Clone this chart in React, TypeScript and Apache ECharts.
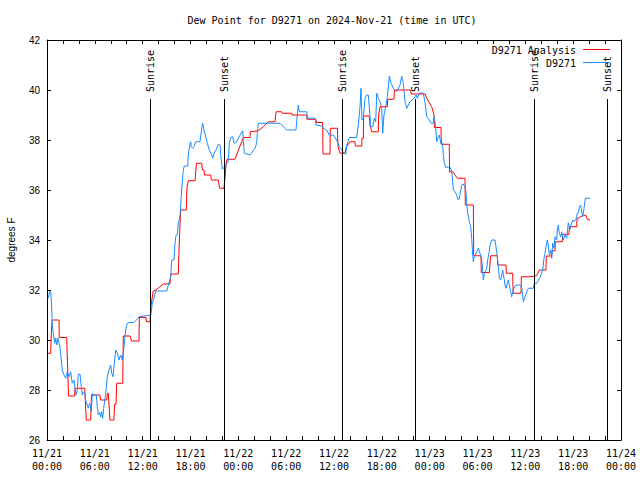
import React, { useEffect, useRef } from "react";
import * as echarts from "echarts";

const TITLE = "Dew Point for D9271 on 2024-Nov-21 (time in UTC)";
const Y_LABEL = "degrees F";
const SERIES_NAMES = ["D9271 Analysis", "D9271"];
const MONTH = 11;
const START_DAY = 21; // hour 0 = 2024-11-21 00:00 UTC
const X_MIN = 0;
const X_MAX = 72;
const X_STEP = 6;
const Y_MIN = 26;
const Y_MAX = 42;
const Y_STEP = 2;

// [hours since 11/21 00:00 UTC, dew point °F]
const analysisData: [number, number][] = [
  [0.13, 29.47], [0.46, 29.47], [0.56, 30.4], [0.66, 30.8], [1.51, 30.8], [1.53, 30.1], [2.47, 30.1],
  [2.57, 29.1], [2.7, 27.76], [3.47, 27.76], [3.51, 28.07], [4.73, 28.07], [4.83, 27.44], [4.93, 26.8],
  [5.48, 26.8], [5.58, 27.8], [6.65, 27.8], [6.71, 27.6], [7.49, 27.6], [7.59, 27.87], [7.69, 27.87],
  [7.9, 26.8], [8.4, 26.8], [8.47, 27.43], [8.66, 27.43], [8.74, 28.27], [9.5, 28.27], [9.57, 30.16],
  [10.41, 30.16], [10.6, 29.96], [11.54, 29.96], [11.58, 30.9], [12.42, 30.9], [12.48, 30.73],
  [12.92, 30.73], [13.05, 31.4], [13.33, 31.96], [13.68, 32.0], [14.59, 32.24], [15.43, 32.24],
  [15.52, 32.64], [16.47, 32.64], [16.56, 33.6], [16.68, 34.6], [16.77, 35.2], [17.47, 35.2],
  [17.56, 36.1], [17.72, 36.37], [18.57, 36.37], [18.75, 37.07], [19.4, 37.07], [19.5, 36.8],
  [19.69, 36.8], [19.76, 36.6], [20.53, 36.6], [20.63, 36.4], [21.49, 36.4], [21.64, 36.07],
  [22.2, 36.07], [22.33, 36.5], [22.45, 37.0], [22.58, 37.23], [23.58, 37.23], [24.62, 38.1],
  [25.46, 38.1], [25.5, 38.33], [26.51, 38.37], [27.13, 38.53], [27.76, 38.73], [28.6, 38.73],
  [28.73, 39.13], [29.44, 39.13], [29.48, 39.07], [30.7, 39.07], [30.73, 39.0], [32.58, 39.0],
  [32.61, 38.83], [33.74, 38.83], [33.78, 38.7], [34.58, 38.7], [34.62, 37.44], [35.5, 37.44],
  [35.54, 38.47], [36.42, 38.47], [36.5, 37.73], [36.75, 37.47], [37.38, 37.47], [37.51, 37.7],
  [38.01, 37.93], [38.64, 37.93], [38.67, 37.76], [39.48, 37.76], [39.51, 38.07], [39.68, 38.07],
  [39.72, 38.96], [40.43, 38.96], [40.52, 38.6], [40.73, 38.33], [41.56, 38.33], [41.6, 39.0],
  [41.77, 39.33], [42.69, 39.33], [42.73, 39.63], [43.53, 39.63], [43.57, 40.0], [45.54, 40.0],
  [45.75, 39.84], [47.42, 39.84], [47.63, 39.67], [48.26, 39.33], [48.55, 39.0], [48.59, 38.5],
  [49.42, 38.5], [49.46, 37.83], [50.46, 37.83], [50.5, 36.73], [50.89, 36.73], [51.47, 36.47],
  [52.43, 36.47], [52.47, 35.4], [53.48, 35.4], [53.52, 33.37], [54.44, 33.37], [54.47, 32.7],
  [55.48, 32.7], [55.64, 33.37], [56.49, 33.37], [56.52, 33.0], [57.58, 33.0], [57.61, 32.67],
  [58.42, 32.67], [58.46, 31.87], [59.46, 31.87], [59.5, 32.53], [60.59, 32.53], [61.43, 32.57],
  [61.76, 32.8], [62.59, 32.8], [62.63, 33.36], [63.31, 33.36], [63.35, 33.57], [63.72, 33.57],
  [63.76, 33.93], [64.64, 33.93], [64.68, 34.23], [65.48, 34.23], [65.52, 34.53], [66.45, 34.53],
  [66.48, 34.85], [67.27, 34.99], [67.61, 34.99], [67.78, 34.83], [68.11, 34.8],
];

const observedData: [number, number][] = [
  [0.13, 31.67], [0.25, 31.8], [0.34, 31.93], [0.46, 31.93], [0.54, 31.6], [0.66, 30.67], [0.79, 30.27],
  [0.97, 29.87], [1.09, 30.07], [1.22, 29.8], [1.38, 30.07], [1.51, 29.87], [1.63, 29.73], [1.79, 29.2],
  [1.92, 28.8], [2.13, 28.6], [2.35, 28.47], [2.55, 28.73], [2.76, 28.53], [2.97, 28.73], [3.17, 28.27],
  [3.39, 28.4], [3.51, 28.07], [3.64, 27.8], [3.8, 28.0], [3.93, 28.63], [4.14, 28.63], [4.3, 28.13],
  [4.43, 27.8], [4.55, 27.93], [4.73, 27.87], [4.89, 27.53], [5.06, 27.4], [5.18, 27.27], [5.36, 27.47],
  [5.56, 27.13], [5.68, 27.87], [5.9, 27.8], [6.18, 27.8], [6.31, 27.33], [6.44, 27.0], [6.61, 27.1],
  [6.74, 26.93], [6.86, 27.13], [6.99, 26.87], [7.11, 27.27], [7.28, 27.67], [7.44, 28.07], [7.56, 28.53],
  [7.78, 28.8], [7.99, 29.0], [8.12, 28.67], [8.28, 28.53], [8.49, 29.2], [8.62, 29.6], [8.82, 29.47],
  [9.03, 29.2], [9.24, 29.4], [9.45, 29.2], [9.66, 29.73], [9.87, 30.4], [10.07, 30.67], [10.29, 30.7],
  [10.91, 30.7], [11.13, 30.77], [11.54, 30.93], [12.17, 30.96], [13.01, 31.0], [13.08, 31.13],
  [13.21, 31.47], [13.42, 31.67], [13.64, 31.96], [15.02, 31.96], [15.22, 32.2], [15.52, 32.53],
  [15.64, 33.2], [15.93, 33.2], [16.06, 33.87], [16.18, 34.2], [16.34, 34.2], [16.47, 34.67],
  [16.68, 34.93], [16.81, 35.6], [16.93, 36.2], [17.1, 36.8], [17.22, 36.96], [17.65, 36.96],
  [17.72, 37.4], [17.94, 37.87], [18.03, 37.93], [18.1, 37.73], [18.28, 37.67], [18.44, 37.73],
  [18.65, 37.93], [19.19, 37.93], [19.41, 38.47], [19.53, 38.67], [19.69, 38.4], [19.91, 38.13],
  [20.11, 37.87], [20.36, 37.6], [20.57, 37.47], [20.79, 37.27], [20.95, 37.47], [21.2, 37.6],
  [21.49, 37.84], [21.7, 37.8], [21.83, 37.27], [21.99, 36.83], [22.2, 36.91], [22.33, 36.87],
  [22.54, 37.07], [22.74, 37.13], [22.87, 37.87], [23.04, 38.1], [23.29, 38.13], [23.46, 37.87],
  [23.71, 37.9], [24.0, 38.07], [24.3, 38.24], [24.55, 38.37], [24.62, 38.0], [24.75, 37.47],
  [25.46, 37.4], [26.09, 37.67], [26.3, 37.87], [26.38, 38.27], [26.51, 38.67], [29.23, 38.67],
  [30.07, 38.4], [31.23, 38.4], [31.4, 39.0], [31.52, 39.4], [31.65, 39.13], [32.58, 39.13],
  [32.65, 38.87], [33.62, 38.87], [33.74, 38.6], [34.46, 38.56], [34.66, 38.47], [35.09, 38.4],
  [35.41, 38.2], [35.91, 38.2], [36.34, 38.0], [36.67, 37.73], [36.97, 37.6], [37.26, 37.47],
  [37.47, 37.44], [37.59, 37.76], [37.8, 38.0], [37.92, 38.1], [38.85, 38.1], [39.05, 38.6],
  [39.26, 39.33], [39.39, 40.07], [39.51, 38.8], [39.68, 38.87], [39.89, 39.67], [40.1, 39.8],
  [40.3, 39.8], [40.43, 39.33], [40.6, 38.53], [40.86, 38.53], [41.06, 38.87], [41.23, 38.73],
  [41.36, 39.87], [41.56, 39.67], [41.77, 39.53], [41.98, 39.33], [42.11, 38.27], [42.27, 39.0],
  [42.52, 39.4], [42.69, 39.73], [42.94, 40.56], [43.15, 40.27], [43.44, 40.07], [43.87, 39.93],
  [44.28, 40.2], [44.49, 40.56], [44.69, 40.27], [44.91, 39.53], [45.12, 39.27], [45.32, 39.4],
  [45.53, 39.53], [45.95, 39.63], [46.16, 39.73], [46.29, 39.8], [46.45, 39.67], [46.7, 39.87],
  [47.0, 39.89], [47.2, 39.87], [47.42, 39.5], [47.63, 38.93], [47.83, 38.87], [48.17, 38.67],
  [48.46, 38.67], [48.55, 38.93], [48.67, 38.73], [48.8, 38.33], [48.88, 37.93], [49.08, 38.13],
  [49.21, 38.2], [49.39, 37.87], [49.51, 37.93], [49.64, 37.73], [49.71, 37.4], [49.84, 37.07],
  [50.01, 36.91], [50.55, 36.91], [50.77, 36.73], [50.89, 36.33], [50.97, 36.0], [51.18, 35.93],
  [51.39, 35.8], [51.52, 35.63], [51.72, 35.63], [51.89, 35.99], [52.02, 36.2], [52.22, 36.24],
  [52.43, 36.13], [52.55, 35.93], [52.64, 35.53], [52.72, 35.2], [52.85, 34.93], [52.97, 34.73],
  [53.15, 34.53], [53.27, 34.07], [53.4, 33.4], [53.48, 33.13], [53.6, 33.33], [53.73, 33.4],
  [53.9, 33.53], [54.1, 33.67], [54.31, 33.47], [54.53, 33.2], [54.65, 32.8], [54.73, 32.4],
  [54.82, 32.6], [54.98, 32.73], [55.16, 32.87], [55.28, 33.2], [55.44, 33.47], [55.57, 33.8],
  [55.78, 34.0], [56.2, 34.0], [56.32, 33.73], [56.49, 33.33], [56.61, 32.93], [56.74, 32.47],
  [56.91, 32.4], [57.04, 32.6], [57.16, 32.8], [57.24, 32.6], [57.37, 32.4], [57.45, 32.2],
  [57.58, 32.07], [57.74, 32.27], [57.87, 32.4], [57.99, 32.2], [58.17, 31.93], [58.29, 31.73],
  [58.42, 31.93], [58.58, 32.07], [58.83, 32.2], [59.33, 32.2], [59.55, 32.07], [59.67, 31.8],
  [59.75, 31.53], [59.96, 31.73], [60.17, 31.93], [60.38, 32.07], [61.0, 32.07], [61.13, 32.27],
  [61.43, 32.27], [61.84, 32.5], [62.18, 32.8], [62.34, 33.27], [62.47, 33.47], [62.59, 33.73],
  [62.76, 34.0], [62.88, 33.8], [63.01, 33.4], [63.18, 33.6], [63.31, 33.27], [63.43, 33.87],
  [63.6, 33.67], [63.72, 34.13], [63.94, 34.0], [64.01, 34.4], [64.14, 34.6], [64.26, 34.27],
  [64.44, 34.13], [64.56, 34.33], [64.76, 34.0], [64.98, 34.2], [65.19, 34.07], [65.39, 34.69],
  [65.61, 34.43], [65.73, 34.6], [65.94, 34.8], [66.11, 34.73], [66.36, 34.83], [66.52, 35.07],
  [66.65, 35.07], [66.77, 35.33], [66.95, 35.4], [67.07, 35.13], [67.2, 34.93], [67.36, 35.27],
  [67.52, 35.67], [68.11, 35.67],
];

const sunLabels = ["Sunrise", "Sunset", "Sunrise", "Sunset", "Sunrise", "Sunset"];
const sunHours = [12.98, 22.24, 37.04, 46.25, 61.1, 70.33];
const SUN_LINE_TOP = 39.64;

const RED = "#ff0000";
const BLUE = "#1a8cff";
const MONO = "'DejaVu Sans Mono', monospace";
const SANS = "'Liberation Sans', Arial, sans-serif";

export default function App() {
  const ref = useRef<HTMLDivElement>(null);
  useEffect(() => {
    if (!ref.current) return;
    const chart = echarts.init(ref.current, null, { renderer: "svg" });
    const fmt = (v: number) => {
      const day = START_DAY + Math.floor(v / 24);
      const hr = Math.round(v % 24);
      return `${MONTH}/${day}\n${String(hr).padStart(2, "0")}:00`;
    };
    const axisLine = { show: true, onZero: false, lineStyle: { color: "#000", width: 1 } };
    const tick = { show: true, inside: true, length: 4, lineStyle: { color: "#000", width: 1 } };
    const minor = { show: true, splitNumber: 3, length: 4, lineStyle: { color: "#000", width: 1 } };
    chart.setOption({
      animation: false,
      backgroundColor: "#ffffff",
      grid: { left: 47, top: 40, width: 574, height: 400, containLabel: false },
      xAxis: [
        {
          type: "value", min: X_MIN, max: X_MAX, interval: X_STEP, position: "bottom",
          axisLine, axisTick: tick, minorTick: minor, splitLine: { show: false }, minorSplitLine: { show: false },
          axisLabel: {
            formatter: fmt, fontFamily: MONO, fontSize: 10, color: "#000", lineHeight: 13, margin: 7,
            showMinLabel: true, showMaxLabel: true,
          },
        },
        {
          type: "value", min: X_MIN, max: X_MAX, interval: X_STEP, position: "top",
          axisLine, axisTick: tick, minorTick: minor, splitLine: { show: false },
          axisLabel: { show: false },
        },
      ],
      yAxis: [
        {
          type: "value", min: Y_MIN, max: Y_MAX, interval: Y_STEP, position: "left",
          axisLine, axisTick: tick, splitLine: { show: false },
          axisLabel: { fontFamily: SANS, fontSize: 10, color: "#000", margin: 7, showMinLabel: true, showMaxLabel: true },
        },
        {
          type: "value", min: Y_MIN, max: Y_MAX, interval: Y_STEP, position: "right",
          axisLine, axisTick: tick, splitLine: { show: false }, axisLabel: { show: false },
        },
      ],
      series: [
        {
          name: SERIES_NAMES[0], type: "line", data: analysisData, symbol: "none", showSymbol: false,
          lineStyle: { color: RED, width: 1 }, z: 3,
          markLine: {
            silent: true, symbol: ["none", "none"], label: { show: false },
            lineStyle: { color: "#000", width: 1, type: "solid" },
            emphasis: { disabled: true },
            data: sunHours.map((h) => [{ coord: [h, Y_MIN] }, { coord: [h, SUN_LINE_TOP] }]),
          },
        },
        {
          name: SERIES_NAMES[1], type: "line", data: observedData, symbol: "none", showSymbol: false,
          lineStyle: { color: BLUE, width: 1 }, z: 4,
        },
      ],
    });

    const sunPts = sunHours.map((h) =>
      chart.convertToPixel({ xAxisIndex: 0, yAxisIndex: 0 }, [h, SUN_LINE_TOP]) as number[]
    );
    const textStyle = (text: string, font: string, align: string, vAlign: string) => ({
      text, font, fill: "#000", textAlign: align, textVerticalAlign: vAlign, align, verticalAlign: vAlign,
    });
    chart.setOption({
      graphic: [
        { type: "text", x: 332, y: 20, style: textStyle(TITLE, `10px ${MONO}`, "center", "middle") },
        { type: "text", x: 11, y: 240, rotation: Math.PI / 2, style: textStyle(Y_LABEL, `10px ${SANS}`, "center", "middle") },
        { type: "text", x: 576, y: 50, style: textStyle(SERIES_NAMES[0], `10px ${MONO}`, "right", "middle") },
        { type: "line", shape: { x1: 583, y1: 49.5, x2: 610, y2: 49.5 }, style: { stroke: RED, lineWidth: 1 } },
        { type: "text", x: 576, y: 63, style: textStyle(SERIES_NAMES[1], `10px ${MONO}`, "right", "middle") },
        { type: "line", shape: { x1: 583, y1: 62.5, x2: 610, y2: 62.5 }, style: { stroke: BLUE, lineWidth: 1 } },
        ...sunLabels.map((lab, i) => ({
          type: "text", x: sunPts[i][0], y: sunPts[i][1] - 7, rotation: Math.PI / 2,
          style: textStyle(lab, `10px ${MONO}`, "left", "middle"),
        })),
      ],
    });
    return () => chart.dispose();
  }, []);
  return (
    <div
      ref={ref}
      style={{ position: "fixed", left: 0, top: 0, width: 640, height: 480, background: "#fff" }}
    />
  );
}
